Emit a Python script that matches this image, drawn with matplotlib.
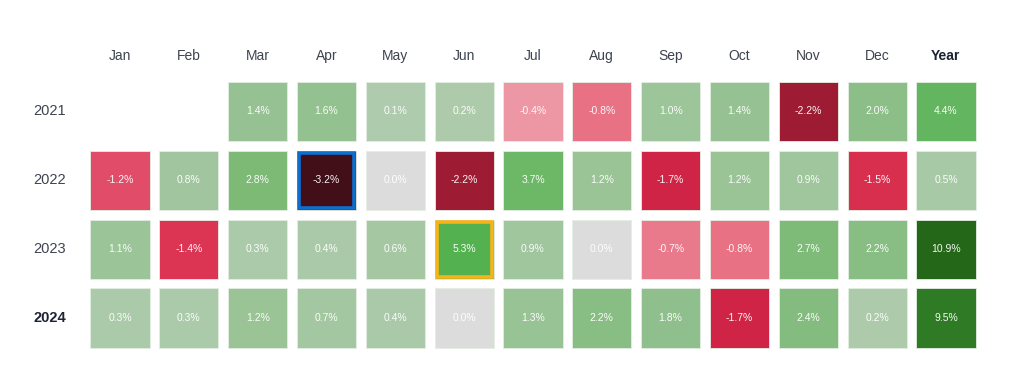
import numpy as np
import matplotlib.pyplot as plt
from matplotlib.colors import LinearSegmentedColormap, Normalize
from matplotlib.patches import Rectangle

plt.rcParams['font.family'] = ['Liberation Sans', 'DejaVu Sans']

months = ['Jan', 'Feb', 'Mar', 'Apr', 'May', 'Jun', 'Jul', 'Aug', 'Sep', 'Oct', 'Nov', 'Dec', 'Year']
years = ['2021', '2022', '2023', '2024']

# monthly returns in %, None = no data
ret_2021 = [None, None, 1.4, 1.6, 0.1, 0.2, -0.4, -0.8, 1.0, 1.4, -2.2, 2.0, 4.4]
ret_2022 = [-1.2, 0.8, 2.8, -3.2, 0.0, -2.2, 3.7, 1.2, -1.7, 1.2, 0.9, -1.5, 0.5]
ret_2023 = [1.1, -1.4, 0.3, 0.4, 0.6, 5.3, 0.9, 0.0, -0.7, -0.8, 2.7, 2.2, 10.9]
ret_2024 = [0.3, 0.3, 1.2, 0.7, 0.4, 0.0, 1.3, 2.2, 1.8, -1.7, 2.4, 0.2, 9.5]
returns = [ret_2021, ret_2022, ret_2023, ret_2024]

# highlighted cells: (row, col) -> edge colour
highlights = {(1, 3): '#0b6fd0', (2, 5): '#f7b318'}

# colour scale (value, colour)
vmin, vmax = -3.5, 11.0
anchors = [(-3.5, '#3a0c14'), (-3.2, '#420e18'), (-2.2, '#9d1c33'), (-1.7, '#cf2445'),
           (-1.4, '#dc3554'), (-1.2, '#e14c68'), (-0.8, '#e87184'), (-0.4, '#ee97a4'),
           (-0.02, '#f2b5bd'), (0.0, '#dcdcdc'), (0.02, '#b0ccae'), (0.3, '#abcaaa'),
           (1.0, '#9dc59a'), (2.0, '#8cbe88'), (2.8, '#7cba76'), (3.7, '#6db866'),
           (4.4, '#63b560'), (5.3, '#53b150'), (9.5, '#2f7a25'), (10.9, '#246718'),
           (11.0, '#246718')]
norm = Normalize(vmin=vmin, vmax=vmax)
cmap = LinearSegmentedColormap.from_list(
    'ret', [(float(norm(v)), c) for v, c in anchors], N=8192)

fig = plt.figure(figsize=(10.24, 3.92), dpi=100)
W, H = 1024, 392
step = 68.83
x0, y0 = 120.0, 111.5
left = x0 - step * 0.5
top = y0 - step * 0.5
ax = fig.add_axes([left / W, 1 - (top + 4 * step) / H, 13 * step / W, 4 * step / H])
ax.set_xlim(-0.5, 12.5)
ax.set_ylim(3.5, -0.5)
ax.axis('off')

size = 0.86
for r, row in enumerate(returns):
    for c, v in enumerate(row):
        if v is None:
            continue
        ax.add_patch(Rectangle((c - size / 2, r - size / 2), size, size,
                               facecolor=cmap(norm(v)), edgecolor='#e4eee4', lw=0.6))
        if (r, c) in highlights:
            inset = 0.03
            ax.add_patch(Rectangle((c - size / 2 + inset, r - size / 2 + inset),
                                   size - 2 * inset, size - 2 * inset, facecolor='none',
                                   edgecolor=highlights[(r, c)], lw=2.6))
        ax.text(c, r, f'{v:.1f}%', ha='center', va='center', color='white',
                fontsize=7.5, alpha=0.95)

for c, m in enumerate(months):
    bold = m == 'Year'
    ax.text(c, -0.8, m, ha='center', va='center', fontsize=10,
            color='#1c2333' if bold else '#3d4350',
            fontweight='bold' if bold else 'normal', clip_on=False)

for r, y in enumerate(years):
    bold = y == '2024'
    ax.text(-1.02, r, y, ha='center', va='center', fontsize=10.5,
            color='#1c2333' if bold else '#3d4350',
            fontweight='bold' if bold else 'normal', clip_on=False)

fig.savefig('out.png', dpi=100, facecolor='white')
